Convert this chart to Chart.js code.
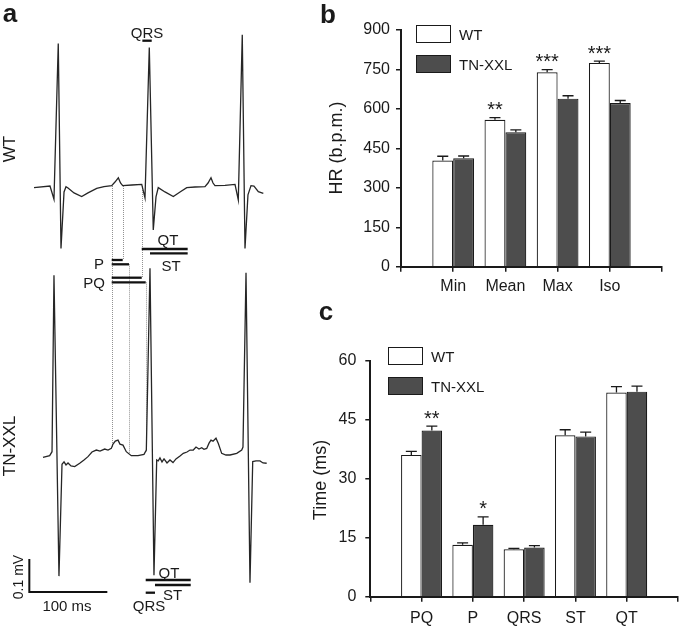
<!DOCTYPE html>
<html>
<head>
<meta charset="utf-8">
<script src="https://cdn.jsdelivr.net/npm/chart.js@4"></script>
<style>
    body { margin: 0; background: #fff; }
    #fig { position: relative; width: 685px; height: 628px; overflow: hidden; background: #fff; font-family: "Liberation Sans", Arial, sans-serif; }
    canvas { position: absolute; }
    .txt { position: absolute; white-space: nowrap; line-height: 1; color: #1a1a1a; }
    .box { position: absolute; box-sizing: border-box; border: 1.2px solid #1a1a1a; }
</style>
</head>
<body>
<div id="fig">
    <canvas id="ecg" width="300" height="628" style="left:0;top:0"></canvas>
    <canvas id="hr" width="347" height="300" style="left:338px;top:0"></canvas>
    <canvas id="time" width="355" height="328" style="left:330px;top:300px"></canvas>
</div>
<script>
// ---- panel a: ECG traces (time in ms, voltage in mV) ----
const wtTime = [43.6, 64.1, 69.2, 74.7, 78.2, 82.1, 84.6, 87.2, 94.9, 104.7, 112.8, 124.0, 133.3, 143.2, 147.4, 151.7, 154.5, 157.3, 169.2, 181.7, 185.9, 191.4, 196.5, 200.0, 202.9, 211.5, 222.2, 230.8, 239.4, 250.0, 262.8, 266.7, 270.5, 273.1, 275.6, 288.5, 301.3, 305.5, 310.6, 314.1, 317.9, 321.8, 325.6, 331.2, 337.6];
const wtVolt = [-0.005, 0.000, -0.040, 0.432, -0.189, -0.018, -0.002, -0.006, -0.021, -0.032, -0.021, -0.007, -0.002, 0.001, 0.012, 0.025, 0.009, 0.001, 0.003, 0.005, -0.036, 0.420, -0.133, -0.033, -0.005, -0.018, -0.032, -0.018, -0.005, -0.003, -0.002, 0.009, 0.025, 0.009, 0.001, 0.002, 0.005, -0.042, 0.458, -0.189, -0.027, 0.001, 0.000, -0.017, -0.022];
const tnTime = [55.1, 63.7, 66.7, 69.2, 75.6, 79.5, 82.1, 84.6, 87.2, 91.0, 95.8, 102.2, 107.7, 112.8, 117.9, 123.5, 128.2, 134.2, 138.5, 142.7, 144.9, 147.8, 151.3, 153.8, 157.7, 161.9, 168.3, 176.9, 184.6, 187.6, 192.3, 197.4, 200.9, 202.9, 205.1, 207.7, 210.3, 214.1, 217.9, 221.8, 225.6, 230.8, 235.0, 239.7, 243.6, 247.8, 251.3, 255.1, 258.6, 261.5, 265.0, 268.0, 270.5, 273.1, 276.9, 279.9, 284.2, 289.7, 294.9, 303.5, 309.9, 311.5, 315.4, 320.5, 324.0, 328.2, 333.3, 337.2, 341.9];
const tnVolt = [-0.007, -0.002, 0.010, 0.545, -0.367, -0.028, -0.021, -0.030, -0.024, -0.033, -0.035, -0.025, -0.015, -0.005, 0.009, 0.015, 0.012, 0.018, 0.015, 0.020, 0.033, 0.042, 0.045, 0.033, 0.030, 0.010, -0.002, -0.002, 0.002, 0.015, 0.566, -0.364, -0.015, -0.018, -0.009, -0.021, -0.012, -0.024, -0.015, -0.023, -0.012, -0.003, 0.005, 0.009, 0.015, 0.015, 0.024, 0.018, 0.022, 0.017, 0.020, 0.036, 0.045, 0.042, 0.051, 0.035, 0.005, 0.000, 0.000, 0.005, 0.015, 0.024, 0.552, -0.387, -0.020, -0.018, -0.018, -0.024, -0.025];

// interval markers (ms): P, PQ, QRS, ST, QT
const intervalNames = ["P", "PQ", "QRS", "ST", "QT"];
const wtIntervalStart = [143.2, 143.2, 182.5, 192.3, 181.7];
const wtIntervalEnd = [157.3, 181.7, 194.5, 240.6, 240.6];
const tnIntervalStart = [143.2, 143.2, 186.8, 198.7, 186.8];
const tnIntervalEnd = [165.4, 186.8, 198.7, 244.5, 244.5];

// ---- panel b: heart rate ----
const hrCategories = ["Min", "Mean", "Max", "Iso"];
const hrWT = [404, 559, 739, 775];
const hrWTErr = [16, 8, 10, 7];
const hrTN = [412, 511, 639, 622];
const hrTNErr = [9, 9, 11, 10];
const hrWTStars = ["", "**", "***", "***"];
const hrTNStars = ["", "", "", ""];
const hrTicks = [0, 150, 300, 450, 600, 750, 900];

// ---- panel c: ECG intervals ----
const timeCategories = ["PQ", "P", "QRS", "ST", "QT"];
const timeWT = [36.1, 13.2, 12.05, 41.1, 52.0];
const timeWTErr = [0.9, 0.5, 0.25, 1.4, 1.5];
const timeTN = [42.3, 18.3, 12.5, 40.8, 52.2];
const timeTNErr = [1.1, 2.0, 0.5, 1.1, 1.4];
const timeWTStars = ["", "", "", "", ""];
const timeTNStars = ["**", "*", "", "", ""];
const timeTicks = [0, 15, 30, 45, 60];

const seriesNames = ["WT", "TN-XXL"];

const FONT = "'Liberation Sans', Arial, sans-serif";
const INK = "#1a1a1a";
const DARK = "#4d4d4d";
const fig = document.getElementById("fig");

function addText(text, x, y, opts = {}) {
    const el = document.createElement("div");
    el.className = "txt";
    el.textContent = text;
    el.style.left = x + "px";
    el.style.top = y + "px";
    el.style.fontSize = (opts.size || 15) + "px";
    if (opts.bold) el.style.fontWeight = "bold";
    const ax = opts.align === "right" ? "-100%" : opts.align === "left" ? "0" : "-50%";
    el.style.transform = `translate(${ax}, -50%)` + (opts.rotate ? " rotate(-90deg)" : "");
    fig.appendChild(el);
}

function addLegend(x, y) {
    [0, 1].forEach(i => {
        const box = document.createElement("div");
        box.className = "box";
        box.style.left = x + "px";
        box.style.top = (y + i * 29.5) + "px";
        box.style.width = "35px";
        box.style.height = "18px";
        box.style.background = i === 0 ? "#fff" : DARK;
        fig.appendChild(box);
        addText(seriesNames[i], x + 43, y + 9 + i * 29.5, { size: 15, align: "left" });
    });
}

// ---- ECG chart ----
const pxPerMs = 0.78;
const pxPerMv = 330;
const wtBaseline = 186;      // canvas row of WT baseline
const tnOffset = -(455 - 186) / pxPerMv;   // TN trace drawn below WT

const wtRows = [260, 277.7, 40.7, 253.3, 249];
const tnRows = [264.3, 282.3, 592.7, 585, 580];

const ecgMarks = {
    id: "ecgMarks",
    beforeDatasetsDraw(chart) {
        const ctx = chart.ctx;
        const x = chart.scales.x;
        // dotted guides from the traces to the interval bars
        const guides = [
            [wtIntervalStart[0], 186, 448],
            [wtIntervalEnd[0], 186, wtRows[0]],
            [wtIntervalEnd[1], 186, wtRows[1]],
            [tnIntervalEnd[0], tnRows[0], 453],
            [tnIntervalEnd[1], tnRows[1], 452]
        ];
        ctx.save();
        ctx.strokeStyle = "#777";
        ctx.lineWidth = 0.8;
        ctx.setLineDash([1, 1]);
        guides.forEach(g => {
            const px = Math.round(x.getPixelForValue(g[0])) + 0.5;
            ctx.beginPath();
            ctx.moveTo(px, g[1]);
            ctx.lineTo(px, g[2]);
            ctx.stroke();
        });
        ctx.restore();
    },
    afterDatasetsDraw(chart) {
        const ctx = chart.ctx;
        const x = chart.scales.x;
        const y = chart.scales.y;
        ctx.save();
        ctx.strokeStyle = "#111";
        ctx.lineWidth = 2.3;
        const drawBar = (t0, t1, row) => {
            ctx.beginPath();
            ctx.moveTo(x.getPixelForValue(t0), row);
            ctx.lineTo(x.getPixelForValue(t1), row);
            ctx.stroke();
        };
        // top trace: QRS above, P/PQ/QT/ST below; bottom trace: P/PQ above, QRS/QT/ST below
        intervalNames.forEach((name, i) => {
            drawBar(wtIntervalStart[i], wtIntervalEnd[i], wtRows[i]);
            drawBar(tnIntervalStart[i], tnIntervalEnd[i], tnRows[i]);
        });
        // scale bar: 100 ms x 0.1 mV
        const t0 = 37.6, v0 = -1.2303;
        ctx.lineWidth = 2;
        ctx.beginPath();
        ctx.moveTo(x.getPixelForValue(t0), y.getPixelForValue(v0 + 0.1));
        ctx.lineTo(x.getPixelForValue(t0), y.getPixelForValue(v0));
        ctx.lineTo(x.getPixelForValue(t0 + 100), y.getPixelForValue(v0));
        ctx.stroke();
        ctx.restore();
    }
};

function traceData(times, volts, offset) {
    return times.map((t, i) => ({ x: t, y: volts[i] + offset }));
}

new Chart(document.getElementById("ecg"), {
    type: "scatter",
    data: {
        datasets: [
            { data: traceData(wtTime, wtVolt, 0) },
            { data: traceData(tnTime, tnVolt, tnOffset) }
        ]
    },
    options: {
        responsive: false,
        animation: false,
        showLine: true,
        elements: {
            line: { borderColor: "#262626", borderWidth: 1.3, tension: 0, fill: false },
            point: { radius: 0 }
        },
        layout: { padding: 0 },
        plugins: { legend: { display: false }, tooltip: { enabled: false } },
        scales: {
            x: { type: "linear", display: false, min: 0, max: 300 / pxPerMs },
            y: { type: "linear", display: false, min: (wtBaseline - 628) / pxPerMv, max: wtBaseline / pxPerMv }
        }
    },
    plugins: [ecgMarks]
});

// ---- bar charts ----
const errorBars = {
    id: "errorBars",
    afterDatasetsDraw(chart) {
        const ctx = chart.ctx;
        const y = chart.scales.y;
        chart.data.datasets.forEach((ds, i) => {
            const meta = chart.getDatasetMeta(i);
            meta.data.forEach((bar, j) => {
                const v = ds.data[j];
                if (v == null) return;
                const top = y.getPixelForValue(v + ds.errors[j]);
                ctx.save();
                ctx.strokeStyle = INK;
                ctx.lineWidth = 1.3;
                ctx.beginPath();
                ctx.moveTo(bar.x, bar.y);
                ctx.lineTo(bar.x, top);
                ctx.moveTo(bar.x - 5.5, top);
                ctx.lineTo(bar.x + 5.5, top);
                ctx.stroke();
                if (ds.stars[j]) {
                    ctx.fillStyle = INK;
                    ctx.font = "20px " + FONT;
                    ctx.textAlign = "center";
                    ctx.textBaseline = "alphabetic";
                    ctx.fillText(ds.stars[j], bar.x, top - 1.5);
                }
                ctx.restore();
            });
        });
    }
};

// one empty slot on each side of the categories
const pad = arr => [null, ...arr, null];

function barChart(id, cats, wt, wtErr, tn, tnErr, wtStars, tnStars, ticks, geom) {
    return new Chart(document.getElementById(id), {
        type: "bar",
        data: {
            labels: ["", ...cats, ""],
            datasets: [
                { label: seriesNames[0], data: pad(wt), errors: pad(wtErr), stars: pad(wtStars), backgroundColor: "#fff" },
                { label: seriesNames[1], data: pad(tn), errors: pad(tnErr), stars: pad(tnStars), backgroundColor: DARK }
            ]
        },
        options: {
            responsive: false,
            animation: false,
            datasets: { bar: { categoryPercentage: 0.8, barPercentage: 1, borderColor: INK, borderWidth: 1.2, borderSkipped: "bottom" } },
            layout: { padding: { left: 0, top: geom.top, right: geom.right, bottom: 0 } },
            plugins: { legend: { display: false }, tooltip: { enabled: false } },
            scales: {
                x: {
                    offset: false,
                    grid: { offset: false, drawOnChartArea: false, tickLength: 5, color: INK, lineWidth: 1.5 },
                    border: { color: INK, width: 2 },
                    ticks: { font: { size: 16, family: FONT }, color: INK, padding: geom.xPad, maxRotation: 0, autoSkip: false },
                    afterFit: s => { s.height = geom.xHeight; }
                },
                y: {
                    min: ticks[0],
                    max: ticks[ticks.length - 1],
                    afterBuildTicks: s => { s.ticks = ticks.map(v => ({ value: v })); },
                    grid: { drawOnChartArea: false, tickLength: 5, color: INK, lineWidth: 1.5 },
                    border: { color: INK, width: 2 },
                    ticks: { font: { size: 16, family: FONT }, color: INK, padding: geom.yPad },
                    afterFit: s => { s.width = geom.yWidth; }
                }
            }
        },
        plugins: [errorBars]
    });
}

barChart("hr", hrCategories, hrWT, hrWTErr, hrTN, hrTNErr, hrWTStars, hrTNStars, hrTicks,
    { top: 30, right: 23, xHeight: 33.3, yWidth: 63, xPad: 5, yPad: 6 });
barChart("time", timeCategories, timeWT, timeWTErr, timeTN, timeTNErr, timeWTStars, timeTNStars, timeTicks,
    { top: 61, right: 1.7, xHeight: 31.3, yWidth: 40.3, xPad: 7, yPad: 9 });

// ---- text and legends ----
addText("a", 10, 13, { size: 26, bold: true });
addText("b", 328, 14, { size: 26, bold: true });
addText("c", 326, 311, { size: 26, bold: true });

addText("WT", 9, 149, { size: 17, rotate: true });
addText("TN-XXL", 9, 446, { size: 17, rotate: true });
addText("0.1 mV", 18, 577, { size: 14, rotate: true });
addText("100 ms", 67, 605, { size: 15 });

addText("QRS", 147, 32, { size: 15 });
addText("QT", 168, 239, { size: 15 });
addText("ST", 171, 265, { size: 15 });
addText("P", 104, 263, { size: 15, align: "right" });
addText("PQ", 105, 282, { size: 15, align: "right" });
addText("QT", 169, 572, { size: 15 });
addText("ST", 172.5, 594, { size: 15 });
addText("QRS", 149, 605, { size: 15 });

addText("HR (b.p.m.)", 336, 148, { size: 18, rotate: true });
addText("Time (ms)", 320, 480, { size: 18, rotate: true });

addLegend(416, 25);
addLegend(388, 347);
</script>
</body>
</html>
